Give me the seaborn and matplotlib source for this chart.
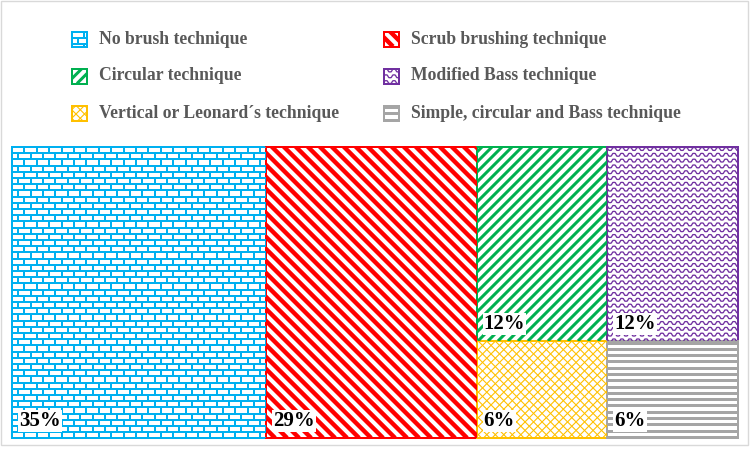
import numpy as np
import matplotlib
matplotlib.use("Agg")
import matplotlib.pyplot as plt
from matplotlib.patches import Rectangle
from matplotlib.collections import LineCollection
import seaborn as sns

# data
techniques = ["No brush technique", "Scrub brushing technique",
              "Circular technique", "Modified Bass technique",
              "Vertical or Leonard\u00b4s technique", "Simple, circular and Bass technique"]
percent = [35, 29, 12, 12, 6, 6]
colors = ["#00b0f0", "#ff0000", "#00b050", "#7030a0", "#ffc000", "#a5a5a5"]
patterns = ["brick", "wide_down", "dash_up", "wave", "trellis", "hstripe"]

sns.set_theme(style="white")
plt.rcParams["font.family"] = ["Liberation Serif", "DejaVu Serif"]

PX = 0.72  # points per pixel at dpi 100


def squarify(vals, x, y, w, h):
    rects = []
    vals = list(vals)
    while vals:
        short = min(w, h)

        def worst(r):
            side = sum(r) / short
            return max(max(side / (v / side), (v / side) / side) for v in r)

        row = [vals[0]]
        i = 1
        while i < len(vals) and worst(row + [vals[i]]) <= worst(row):
            row.append(vals[i])
            i += 1
        thick = sum(row) / short
        if w >= h:
            cy = y + h
            for v in row:
                hh = v / thick
                cy -= hh
                rects.append((x, cy, thick, hh))
            x += thick
            w -= thick
        else:
            cx = x
            for v in row:
                ww = v / thick
                rects.append((cx, y + h - thick, ww, thick))
                cx += ww
            h -= thick
        vals = vals[i:]
    return rects


def add_lines(ax, segs, color, lw, clip):
    lc = LineCollection(segs, colors=color, linewidths=lw * PX, capstyle="butt")
    ax.add_collection(lc)
    lc.set_clip_path(clip)


def diag(x, y, w, h, period, up=True):
    segs = []
    n = w + h
    for c in np.arange(-n, n + period, period):
        if up:
            segs.append([(x - h + c, y), (x + w + c, y + w + h)])
        else:
            segs.append([(x - h + c, y + w + h), (x + w + c, y)])
    return segs


def draw_pattern(ax, rect, kind, color):
    x, y, w, h = rect
    clip = Rectangle((x, y), w, h, facecolor="white", edgecolor="none")
    ax.add_patch(clip)
    if kind == "brick":
        row, brick = 6.2, 12.4
        ys = np.arange(y + h, y - row, -row)
        segs = [[(x, yy), (x + w, yy)] for yy in ys]
        for k, yy in enumerate(ys):
            off = (k % 2) * brick / 2
            for xx in np.arange(x - brick + off, x + w + brick, brick):
                segs.append([(xx, yy), (xx, yy - row)])
        add_lines(ax, segs, color, 2.0, clip)
    elif kind == "wide_down":
        add_lines(ax, diag(x, y, w, h, 12.0, up=False), color, 4.4, clip)
    elif kind == "dash_up":
        add_lines(ax, diag(x, y, w, h, 10.0, up=True), color, 3.0, clip)
    elif kind == "wave":
        xs = np.arange(x, x + w + 0.5, 0.5)
        segs = []
        for yy in np.arange(y + h - 2, y - 6, -5.8):
            ys_ = yy + 1.4 * np.clip(1.6 * np.sin(2 * np.pi * xs / 8.0), -1, 1)
            segs.append(np.column_stack([xs, ys_]))
        add_lines(ax, segs, color, 1.3, clip)
    elif kind == "trellis":
        segs = diag(x, y, w, h, 8.5, up=True) + diag(x, y, w, h, 8.5, up=False)
        add_lines(ax, segs, color, 1.1, clip)
    elif kind == "hstripe":
        segs = [[(x, yy), (x + w, yy)] for yy in np.arange(y + h - 1.5, y, -6.3)]
        add_lines(ax, segs, color, 3.0, clip)
    border = Rectangle((x, y), w, h, facecolor="none", edgecolor=color,
                       linewidth=2.0 * PX, clip_on=False)
    ax.add_patch(border)


fig = plt.figure(figsize=(7.5, 4.5), dpi=100)
fig.patches.append(Rectangle((1 / 750, 5 / 450), 747 / 750, 444 / 450,
                             transform=fig.transFigure, facecolor="none",
                             edgecolor="#d9d9d9", linewidth=1.0))

W, H = 726, 291
ax = fig.add_axes([12 / 750, 12 / 450, W / 750, H / 450])
ax.set_xlim(0, W)
ax.set_ylim(0, H)
ax.axis("off")

total = sum(percent)
areas = [p / total * W * H for p in percent]
rects = squarify(areas, 0, 0, W, H)

for rect, p, kind, col in zip(rects, percent, patterns, colors):
    draw_pattern(ax, rect, kind, col)
    ax.text(rect[0] + 7, rect[1] + 7, f"{p}%", fontsize=15, fontweight="bold",
            color="black", ha="left", va="bottom",
            bbox=dict(facecolor="white", edgecolor="none", pad=0.6))

# legend
row_y = [39, 76, 113]
col_x = [72, 384]
for i, (name, kind, col) in enumerate(zip(techniques, patterns, colors)):
    cx = col_x[i % 2]
    cy = row_y[i // 2]
    lax = fig.add_axes([cx / 750, (450 - cy - 7.5) / 450, 15 / 750, 15 / 450])
    lax.set_xlim(0, 15)
    lax.set_ylim(0, 15)
    lax.axis("off")
    draw_pattern(lax, (0, 0, 15, 15), kind, col)
    fig.text((cx + 27) / 750, 1 - cy / 450, name, fontsize=12.7,
             fontweight="bold", color="#595959", ha="left", va="center")

fig.savefig("out.png", dpi=100)
